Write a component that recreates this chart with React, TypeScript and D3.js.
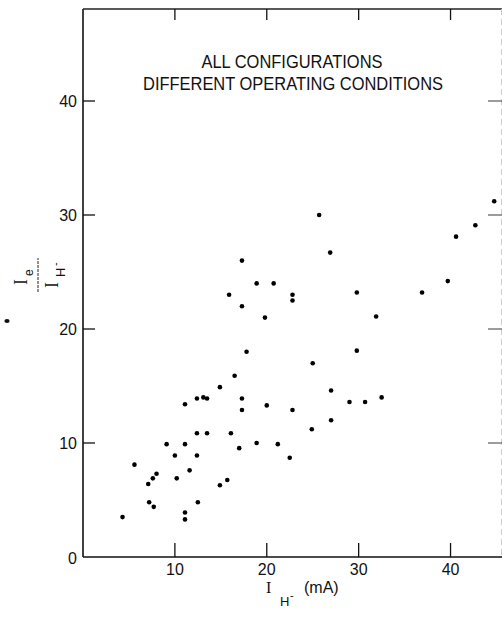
import * as d3 from 'd3';
import { useEffect, useRef } from 'react';

// I_H- (mA) of each operating point
const currentH = [
  4.3, 5.6, 7.1, 7.6, 8.0, 7.2, 7.7, 9.1, 10.0, 10.2,
  11.1, 11.1, 11.1, 11.1, 11.6, 12.4, 13.1, 13.5, 12.4, 12.4,
  12.5, 13.5, 14.9, 14.9, 15.7, 16.1, 17.0, 17.3, 17.3, 18.9,
  20.0, 21.2, 22.8, 22.5, 24.9, 27.0, 27.0, 29.0, 30.7, 32.5,
  25.0, 29.8, 31.9, 29.8, 26.9, 25.7, 36.9, 39.7, 40.6, 42.7,
  44.75, 17.3, 18.9, 20.75, 15.9, 22.8, 22.8, 17.3, 19.8, 17.8,
  16.5,
];
// Ie / IH- ratio for the same points
const ratio = [
  3.5, 8.1, 6.4, 6.9, 7.3, 4.8, 4.4, 9.9, 8.9, 6.9,
  13.4, 9.9, 3.9, 3.3, 7.6, 13.9, 14.0, 13.9, 10.85, 8.9,
  4.8, 10.85, 14.9, 6.3, 6.75, 10.85, 9.55, 13.9, 12.9, 10.0,
  13.3, 9.9, 12.9, 8.7, 11.2, 12.0, 14.6, 13.6, 13.6, 14.0,
  17.0, 18.1, 21.1, 23.2, 26.7, 30.0, 23.2, 24.2, 28.1, 29.1,
  31.2, 26.0, 24.0, 24.0, 23.0, 23.0, 22.5, 22.0, 21.0, 18.0,
  15.9,
];
const xTicks = [10, 20, 30, 40];
const yTicks = [0, 10, 20, 30, 40];
const titleLines = ['ALL CONFIGURATIONS', 'DIFFERENT OPERATING CONDITIONS'];

const W = 502;
const H = 617;
const margin = { top: 9, right: 0, bottom: 60, left: 83 };
const sans = 'Liberation Sans, Arial, sans-serif';
const serif = 'Liberation Serif, Times New Roman, serif';

const App = () => {
  const chartRef = useRef(null);

  useEffect(() => {
    const svg = d3.select(chartRef.current);
    svg.selectAll('*').remove();

    const x = d3.scaleLinear().domain([0, 45.6]).range([margin.left, W - margin.right]);
    const y = d3.scaleLinear().domain([0, 48.07]).range([H - margin.bottom, margin.top]);
    const x0 = x(0);
    const x1 = x(45.6);
    const y0 = y(0);
    const y1 = y(48.07);

    // frame
    svg.append('line').attr('x1', x0).attr('x2', x0).attr('y1', y1).attr('y2', y0)
      .attr('stroke', '#111').attr('stroke-width', 1.6);
    svg.append('line').attr('x1', x0).attr('x2', x1).attr('y1', y0).attr('y2', y0)
      .attr('stroke', '#111').attr('stroke-width', 1.6);
    svg.append('line').attr('x1', x0).attr('x2', x1).attr('y1', y1).attr('y2', y1)
      .attr('stroke', '#222').attr('stroke-width', 1.3);
    svg.append('line').attr('x1', x1 - 0.5).attr('x2', x1 - 0.5).attr('y1', y1).attr('y2', y0)
      .attr('stroke', '#ccc').attr('stroke-width', 1).attr('stroke-dasharray', '6 4');

    const ticks = svg.append('g').attr('stroke', '#111').attr('stroke-width', 1.3);
    xTicks.forEach((t) => {
      ticks.append('line').attr('x1', x(t)).attr('x2', x(t)).attr('y1', y0).attr('y2', y0 - 14);
      ticks.append('line').attr('x1', x(t)).attr('x2', x(t)).attr('y1', y1).attr('y2', y1 + 11);
    });
    yTicks.filter((t) => t > 0).forEach((t) => {
      ticks.append('line').attr('x1', x0).attr('x2', x0 + 12).attr('y1', y(t)).attr('y2', y(t));
      ticks.append('line').attr('x1', x1).attr('x2', x1 - 14).attr('y1', y(t)).attr('y2', y(t))
        .attr('stroke', '#666');
    });

    // tick labels
    svg.append('g').selectAll('text').data(xTicks).enter().append('text')
      .attr('x', (d) => x(d)).attr('y', y0 + 17.5)
      .attr('text-anchor', 'middle')
      .style('font-family', sans).style('font-size', '16px').attr('fill', '#111')
      .text((d) => d);
    svg.append('g').selectAll('text').data(yTicks).enter().append('text')
      .attr('x', x0 - 6).attr('y', (d) => y(d) + 6.5)
      .attr('text-anchor', 'end')
      .style('font-family', sans).style('font-size', '16px').attr('fill', '#111')
      .text((d) => d);

    // title
    svg.append('text').attr('x', 292).attr('y', 68)
      .attr('text-anchor', 'middle').attr('textLength', 181).attr('lengthAdjust', 'spacingAndGlyphs')
      .style('font-family', sans).style('font-size', '18px').attr('fill', '#111')
      .text(titleLines[0]);
    svg.append('text').attr('x', 293).attr('y', 90)
      .attr('text-anchor', 'middle').attr('textLength', 300).attr('lengthAdjust', 'spacingAndGlyphs')
      .style('font-family', sans).style('font-size', '18px').attr('fill', '#111')
      .text(titleLines[1]);

    // x label: I_H- (mA)
    const xl = svg.append('g').attr('fill', '#111');
    xl.append('text').attr('x', 266).attr('y', 593)
      .style('font-family', serif).style('font-size', '16px').text('I');
    xl.append('text').attr('x', 280).attr('y', 606)
      .style('font-family', sans).style('font-size', '13px').text('H');
    xl.append('text').attr('x', 290).attr('y', 599)
      .style('font-family', sans).style('font-size', '11px').text('-');
    xl.append('text').attr('x', 304).attr('y', 593)
      .style('font-family', sans).style('font-size', '16px').text('(mA)');

    // y label: Ie / IH- as a rotated fraction
    const yl = svg.append('g').attr('transform', 'translate(38,275) rotate(-90)').attr('fill', '#111');
    yl.append('line').attr('x1', -17).attr('x2', 17).attr('y1', 0).attr('y2', 0)
      .attr('stroke', '#222').attr('stroke-width', 1).attr('stroke-dasharray', '3 1');
    yl.append('text').attr('x', -10).attr('y', -11)
      .style('font-family', serif).style('font-size', '18px').text('I');
    yl.append('text').attr('x', -1).attr('y', -5)
      .style('font-family', sans).style('font-size', '12px').text('e');
    yl.append('text').attr('x', -13).attr('y', 20)
      .style('font-family', serif).style('font-size', '18px').text('I');
    yl.append('text').attr('x', -2).attr('y', 27)
      .style('font-family', sans).style('font-size', '13px').text('H');
    yl.append('text').attr('x', 9).attr('y', 21)
      .style('font-family', sans).style('font-size', '11px').text('-');
    svg.append('ellipse').attr('cx', 7).attr('cy', 321).attr('rx', 2.6).attr('ry', 2).attr('fill', '#111');

    // points
    const pts = currentH.map((v, i) => ({ ih: v, r: ratio[i] }));
    svg.append('g').selectAll('circle').data(pts).enter().append('circle')
      .attr('cx', (d) => x(d.ih)).attr('cy', (d) => y(d.r))
      .attr('r', 2.3).attr('fill', '#000');
  }, []);

  return (
    <svg
      ref={chartRef}
      width={W}
      height={H}
      style={{ position: 'absolute', left: 0, top: 0, background: '#fff' }}
    ></svg>
  );
};

export default App;
